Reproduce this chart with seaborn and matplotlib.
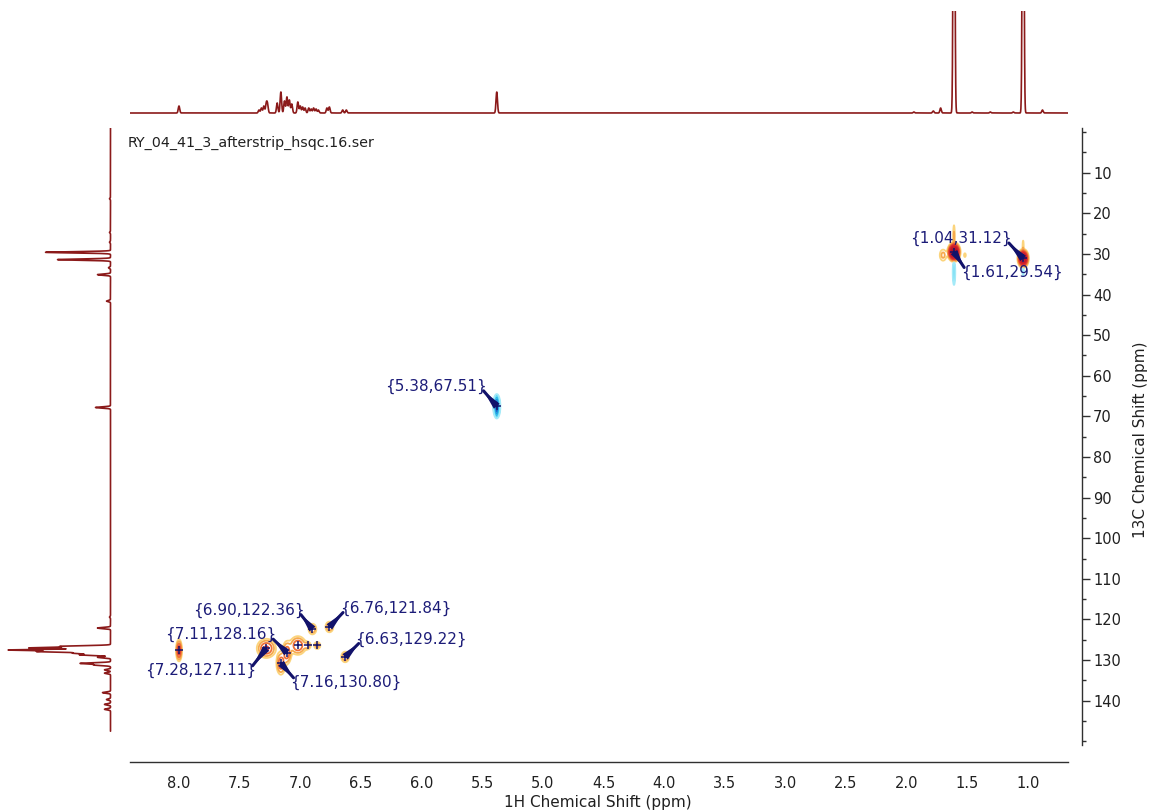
import numpy as np
import pandas as pd
import matplotlib
matplotlib.use("Agg")
import matplotlib.pyplot as plt
import seaborn as sns
from matplotlib.ticker import MultipleLocator, FormatStrFormatter

# ---------------- data ----------------
experiment = "RY_04_41_3_afterstrip_hsqc.16.ser"

# picked HSQC cross peaks (1H ppm, 13C ppm)
pick_h = [1.04, 1.61, 5.38, 6.90, 6.76, 7.11, 6.63, 7.28, 7.16]
pick_c = [31.12, 29.54, 67.51, 122.36, 121.84, 128.16, 129.22, 127.11, 130.80]

# all 2D correlation features: centre, intensity (sign = phase), widths
xp_h   = [1.61, 1.04, 5.38, 6.90, 6.76, 7.11, 6.63, 7.28, 7.16, 8.00, 7.02, 6.94, 6.86,
          1.70, 1.52, 1.61, 1.61, 1.04, 1.04]
xp_c   = [29.54, 31.12, 67.51, 122.36, 121.84, 128.16, 129.22, 127.11, 130.80, 127.6, 126.4, 126.4, 126.4,
          30.3, 30.3, 25.5, 34.5, 28.0, 34.0]
xp_amp = [3.5, 2.6, -1.6, 0.3, 0.3, 0.45, 0.3, 0.55, 0.45, 0.7, 0.5, 0.22, 0.22,
          0.2, 0.12, 0.18, -0.32, 0.14, -0.16]
xp_wh  = [0.020, 0.018, 0.012, 0.02, 0.02, 0.02, 0.02, 0.04, 0.02, 0.012, 0.035, 0.018, 0.018,
          0.02, 0.008, 0.005, 0.006, 0.004, 0.005]
xp_wc  = [0.9, 0.9, 1.2, 0.8, 0.8, 1.5, 0.8, 1.2, 1.5, 1.3, 1.2, 0.6, 0.6,
          1.0, 0.5, 2.0, 1.8, 1.2, 1.0]

# unlabeled picked peaks (markers only)
mark_h = [8.00, 7.02, 6.94, 6.86]
mark_c = [127.6, 126.4, 126.4, 126.4]

# 1H projection (ppm, relative height)
h1_ppm = [8.00, 7.34, 7.32, 7.30, 7.28, 7.27, 7.19, 7.16, 7.13, 7.11, 7.09, 7.07,
          7.02, 7.00, 6.98, 6.96, 6.93, 6.91, 6.89, 6.87, 6.85, 6.78, 6.76, 6.65, 6.62,
          5.38, 1.94, 1.78, 1.72, 1.61, 1.46, 1.31, 1.12, 1.04, 0.88]
h1_int = [7, 3, 5, 7, 9, 8, 10, 21, 12, 16, 13, 9,
          11, 7, 6, 5, 5, 4, 5, 4, 3, 5, 6, 3, 3,
          21, 1, 2, 5, 500, 1, 1, 1, 500, 3]

# 13C projection (ppm, relative height)
c13_ppm = [16.4, 24.7, 27.1, 29.6, 31.4, 33.4, 35.1, 41.6, 67.8, 119.4, 122.1,
           126.6, 127.0, 127.5, 127.9, 128.3, 128.7, 129.3, 130.8, 131.2, 132.4,
           133.2, 138.0, 139.7, 140.9, 142.1]
c13_int = [1, 1, 1, 65, 53, 2, 13, 4, 15, 1, 13,
           48, 80, 100, 70, 35, 30, 13, 30, 16, 6,
           6, 8, 4, 6, 6]

# ---------------- layout ----------------
W, H = 1153, 811
sns.set_style("white")
plt.rcParams["font.family"] = ["DejaVu Sans"]

fig = plt.figure(figsize=(W / 100, H / 100), dpi=100)


def px_rect(x0, y0, x1, y1):
    return [x0 / W, 1 - y1 / H, (x1 - x0) / W, (y1 - y0) / H]


XLIM = (8.404, 0.670)
YLIM = (150.9, -1.0)

ax = fig.add_axes(px_rect(130, 128, 1068, 745))
ax_top = fig.add_axes(px_rect(130, 11, 1068, 116))
ax_left = fig.add_axes(px_rect(0, 128, 112, 745))

spec_color = "#8b1a1a"
navy = "#12126a"
label_color = "#1c1c78"

# ---------------- 2D contours ----------------
xg = np.arange(XLIM[1], XLIM[0], 0.002)
yg = np.arange(YLIM[1], YLIM[0], 0.12)
Z = np.zeros((yg.size, xg.size))
for h, c, a, wh, wc in zip(xp_h, xp_c, xp_amp, xp_wh, xp_wc):
    gx = np.exp(-0.5 * ((xg - h) / wh) ** 2)
    gy = np.exp(-0.5 * ((yg - c) / wc) ** 2)
    Z += a * np.outer(gy, gx)

pos_levels = [0.08, 0.16, 0.3, 0.5, 0.85, 1.4, 2.2, 3.0]
pos_colors = ["#fbd47c", "#f6a94c", "#ee7038", "#e23c30", "#d2242c", "#c41828", "#b61226", "#a80e22"]
neg_levels = [-1.4, -0.9, -0.55, -0.3, -0.14, -0.07]
neg_colors = ["#1d3fa6", "#1e64c4", "#2090dc", "#26b6ea", "#5cd6f2", "#a4eaf8"]

ax.contour(xg, yg, Z, levels=pos_levels, colors=pos_colors, linewidths=1.3, zorder=2)
ax.contour(xg, yg, Z, levels=neg_levels, colors=neg_colors, linewidths=1.3, zorder=2)

# peak-pick crosses
marks = pd.DataFrame({"h": pick_h + mark_h, "c": pick_c + mark_c})
sns.scatterplot(data=marks, x="h", y="c", ax=ax, marker="+", s=38,
                color=navy, linewidth=1.1, zorder=4, legend=False)

ax.set_xlim(*XLIM)
ax.set_ylim(*YLIM)

# peak labels, offset from their peaks (pixels, y up)
label_offset = [(-62, 20), (58, -20), (-61, 20), (-64, 19), (66, 19),
                (-66, 18), (66, 18), (-66, -22), (65, -19)]
labels = []
for h, c, off in zip(pick_h, pick_c, label_offset):
    t = ax.annotate(f"{{{h:.2f},{c:.2f}}}", xy=(h, c), xytext=off,
                    textcoords="offset pixels", ha="center", va="center",
                    fontsize=11, color=label_color, zorder=5)
    labels.append(t)

# leader arrows: thin at the label corner, swelling towards the peak
fig.canvas.draw()
inv = ax.transData.inverted()
for t, h, c, (dx, dy) in zip(labels, pick_h, pick_c, label_offset):
    bb = t.get_window_extent()
    ax_x = bb.x0 + bb.width * (0.97 if dx < 0 else 0.03)
    ax_y = bb.y0 + bb.height * (0.2 if dy > 0 else 0.8)
    start = inv.transform((ax_x, ax_y))
    ax.annotate("", xy=(h, c), xytext=start, zorder=5,
                arrowprops=dict(arrowstyle="-", lw=2.2, color=navy,
                                shrinkA=0, shrinkB=2))
    ax.annotate("", xy=start, xytext=(h, c), zorder=5,
                arrowprops=dict(arrowstyle="wedge,tail_width=0.55,shrink_factor=0.5",
                                color=navy, mutation_scale=10, lw=0,
                                shrinkA=0, shrinkB=0))

for s in ("top", "left"):
    ax.spines[s].set_visible(False)
ax.spines["bottom"].set_position(("outward", 12))
ax.spines["right"].set_position(("outward", 10))
for s in ("bottom", "right"):
    ax.spines[s].set_color("#303030")
    ax.spines[s].set_linewidth(1.0)
ax.yaxis.tick_right()
ax.xaxis.set_major_locator(MultipleLocator(0.5))
ax.xaxis.set_minor_locator(MultipleLocator(0.25))
ax.xaxis.set_major_formatter(FormatStrFormatter("%.1f"))
ax.yaxis.set_minor_locator(MultipleLocator(5))
ax.set_yticks([v for v in range(10, 150, 10)])
ax.tick_params(axis="both", which="major", direction="out", length=6, width=1,
               colors="#303030", labelsize=10.5, labelcolor="#202020")
ax.tick_params(axis="both", which="minor", direction="out", length=3, width=1, colors="#303030")
ax.tick_params(axis="y", pad=2)
ax.tick_params(axis="x", pad=4)
ax.set_xlabel("")
ax.set_ylabel("")

# ---------------- 1H projection (top) ----------------
h_axis = np.linspace(XLIM[1], XLIM[0], 9000)
h_trace = np.zeros_like(h_axis)
for p, i in zip(h1_ppm, h1_int):
    h_trace += i * np.exp(-0.5 * ((h_axis - p) / 0.006) ** 2)
sns.lineplot(x=h_axis, y=h_trace, ax=ax_top, color=spec_color, lw=1.2,
             estimator=None, sort=False)
ax_top.set_xlim(*XLIM)
ax_top.set_ylim(-3, 102)
ax_top.axis("off")

# ---------------- 13C projection (left) ----------------
c_axis = np.linspace(YLIM[1], 147.5, 9000)
c_trace = np.zeros_like(c_axis)
for p, i in zip(c13_ppm, c13_int):
    c_trace += i * np.exp(-0.5 * ((c_axis - p) / 0.15) ** 2)
sns.lineplot(x=c_trace, y=c_axis, ax=ax_left, color=spec_color, lw=1.2,
             estimator=None, sort=False, orient="y")
ax_left.set_xlim(110.5, -1.5)
ax_left.set_ylim(*YLIM)
ax_left.axis("off")

# ---------------- texts ----------------
fig.text(128 / W, 1 - 143 / H, experiment, fontsize=10.3, color="#202020",
         ha="left", va="center")
fig.text(598 / W, 1 - 802 / H, "1H Chemical Shift (ppm)", fontsize=11,
         color="#202020", ha="center", va="center")
fig.text(1141 / W, 1 - 440 / H, "13C Chemical Shift (ppm)", fontsize=11,
         color="#202020", ha="center", va="center", rotation=90)

fig.savefig("out.png", dpi=100, facecolor="white")
